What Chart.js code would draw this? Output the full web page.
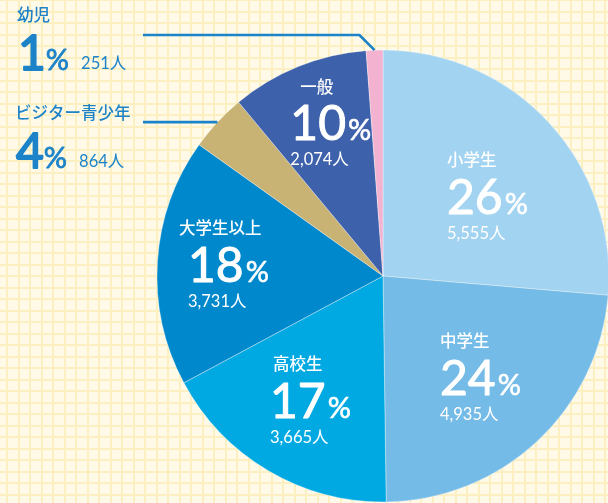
<!DOCTYPE html>
<html lang="ja">
<head>
<meta charset="utf-8">
<script src="https://cdn.jsdelivr.net/npm/chart.js@4.4.1/dist/chart.umd.min.js"></script>
<style>
  html, body { margin: 0; padding: 0; background: #fffae8; }
  #wrap { width: 608px; height: 503px; position: relative; }
</style>
</head>
<body>
<div id="wrap"><canvas id="pie"></canvas></div>
<script>
// categories, clockwise from 12 o'clock
const categories = ['小学生', '中学生', '高校生', '大学生以上', 'ビジター青少年', '一般', '幼児'];
const people = [5555, 4935, 3665, 3731, 864, 2074, 251];
const percents = [26, 24, 17, 18, 4, 10, 1];
const sliceColors = ['#a2d3f1', '#75bbe7', '#00a9e2', '#0088cd', '#c8b274', '#3e61ab', '#f2b2d0'];

// label placement (fractions of the radius from the pie centre; left edge / number baseline)
const insideSpots = [[0.283, -0.274, 0], [0.252, 0.527, 0], [-0.5, 0.628, 3], [-0.863, 0.027, -9], null, [-0.41, -0.60, 10], null];
// outside labels: left x, name middle y, leader y
const outsideSpots = { 6: [17, 15, 35], 4: [15, 113, 123] };

const numFont = 'Lato, "Noto Sans", ';
const jpFont = '"Noto Sans CJK JP", sans-serif';
const blue = '#1d83c8';

function fmt(n) { return n.toLocaleString('en-US') + '人'; }

// fill + thin stroke to get a slightly heavier digit
function boldText(ctx, txt, x, y, extra) {
  ctx.fillText(txt, x, y);
  ctx.lineWidth = extra;
  ctx.strokeStyle = ctx.fillStyle;
  ctx.strokeText(txt, x, y);
}

const paperPlugin = {
  id: 'paper',
  beforeDraw(chart) {
    const { ctx, width, height } = chart;
    ctx.save();
    ctx.fillStyle = '#fffae8';
    ctx.fillRect(0, 0, width, height);
    ctx.fillStyle = '#fcefc2';
    for (let x = 6 - 11.5; x < width; x += 11.5) ctx.fillRect(Math.round(x), 0, 2, height);
    for (let y = -1; y < height; y += 11.5) ctx.fillRect(0, Math.round(y), width, 2);
    ctx.restore();
  }
};

const labelPlugin = {
  id: 'sliceLabels',
  afterDatasetsDraw(chart) {
    const ctx = chart.ctx;
    const arcs = chart.getDatasetMeta(0).data;
    const cx = arcs[0].x, cy = arcs[0].y, r = arcs[0].outerRadius;
    ctx.save();
    ctx.textAlign = 'left';
    ctx.lineJoin = 'round';

    // labels inside slices
    insideSpots.forEach((s, i) => {
      if (!s) return;
      const x = cx + s[0] * r, y = cy + s[1] * r;
      ctx.fillStyle = '#ffffff';
      ctx.textBaseline = 'middle';
      ctx.font = '500 16.5px ' + jpFont;
      ctx.fillText(categories[i], x + s[2], y - 54);
      ctx.textBaseline = 'alphabetic';
      ctx.font = '48px ' + numFont + 'sans-serif';
      const num = String(percents[i]);
      boldText(ctx, num, x, y, 1);
      const w = ctx.measureText(num).width;
      ctx.font = '29px ' + numFont + 'sans-serif';
      boldText(ctx, '%', x + w + 2, y, 0.6);
      ctx.font = '16.5px ' + numFont + jpFont;
      ctx.fillText(fmt(people[i]), x, y + 25);
    });

    // labels outside with leader lines
    Object.keys(outsideSpots).forEach(k => {
      const i = +k;
      const [lx, ly, lineY] = outsideSpots[k];
      const a = arcs[i];
      const mid = (a.startAngle + a.endAngle) / 2;
      const px = cx + Math.cos(mid) * r, py = cy + Math.sin(mid) * r;
      ctx.strokeStyle = blue;
      ctx.lineWidth = 2.6;
      ctx.beginPath();
      ctx.moveTo(px, py);
      const d = Math.abs(py - lineY);
      if (d > 3) ctx.lineTo(px - d, lineY);
      ctx.lineTo(143, d > 3 ? lineY : py);
      ctx.stroke();

      ctx.fillStyle = blue;
      ctx.textBaseline = 'middle';
      ctx.font = '500 16.5px ' + jpFont;
      ctx.fillText(categories[i], lx, ly);
      ctx.textBaseline = 'alphabetic';
      ctx.font = '48px ' + numFont + 'sans-serif';
      const num = String(percents[i]);
      const nx = lx + 1;
      boldText(ctx, num, nx, ly + 55, 1.8);
      const w = ctx.measureText(num).width;
      ctx.font = '29px ' + numFont + 'sans-serif';
      boldText(ctx, '%', nx + w, ly + 55, 0.8);
      const pw = ctx.measureText('%').width;
      ctx.font = '16.5px ' + numFont + jpFont;
      ctx.fillText(fmt(people[i]), nx + w + pw + 12, ly + 54);
    });
    ctx.restore();
  }
};

new Chart(document.getElementById('pie'), {
  type: 'pie',
  data: {
    labels: categories,
    datasets: [{
      data: people,
      backgroundColor: sliceColors,
      borderColor: 'rgba(255,255,255,0.35)',
      borderWidth: 1,
      hoverOffset: 0,
      radius: 226
    }]
  },
  options: {
    responsive: true,
    maintainAspectRatio: false,
    animation: false,
    layout: { padding: { left: 158, top: 50, right: 0, bottom: 1 } },
    plugins: {
      legend: { display: false },
      tooltip: { enabled: false }
    }
  },
  plugins: [paperPlugin, labelPlugin]
});
</script>
</body>
</html>
